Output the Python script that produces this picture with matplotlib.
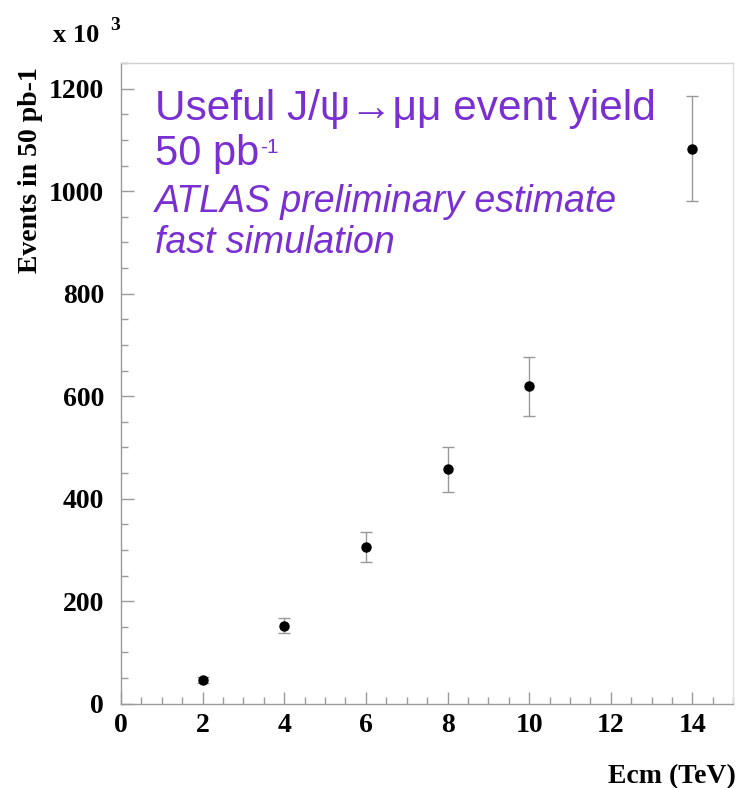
import matplotlib
matplotlib.use('Agg')
import matplotlib.pyplot as plt
from matplotlib.ticker import MultipleLocator

# energies (TeV) and yields (x10^3 events in 50 pb-1)
ecm = [2, 4, 6, 8, 10, 14]
events = [47, 152, 306, 457, 619, 1083]
err = [6, 15, 29, 44, 58, 103]

serif = ['Liberation Serif', 'DejaVu Serif']
sans = ['Liberation Sans', 'DejaVu Sans']
purple = '#7a2fd2'
framecol = '#9a9a9a'

fig = plt.figure(figsize=(7.37, 7.88), dpi=100)
ax = fig.add_axes([0.164, 0.107, 0.831, 0.813])

ax.errorbar(ecm, events, yerr=err, fmt='o', color='black', markersize=6.5,
            ecolor='#999999', elinewidth=1.0, capsize=4, capthick=1.0)

ax.set_xlim(0, 15)
ax.set_ylim(0, 1250)
ax.xaxis.set_major_locator(MultipleLocator(2))
ax.xaxis.set_minor_locator(MultipleLocator(0.5))
ax.yaxis.set_major_locator(MultipleLocator(200))
ax.yaxis.set_minor_locator(MultipleLocator(50))
ax.tick_params(which='both', direction='in', color=framecol, top=False, right=False)
ax.tick_params(which='major', length=9, width=1)
ax.tick_params(which='minor', length=5, width=1)
ax.tick_params(axis='x', pad=7)
ax.tick_params(axis='y', pad=12)
for sp in ax.spines.values():
    sp.set_color(framecol)
    sp.set_linewidth(1)
ax.spines['right'].set_color('#e0e0e0')
ax.spines['top'].set_color('#d0d0d0')

for lab in ax.get_xticklabels() + ax.get_yticklabels():
    lab.set_fontfamily(serif)
    lab.set_fontweight('bold')
    lab.set_fontsize(20)

fig.text(0.041, 0.915, 'Events in 50 pb-1', rotation=90, ha='center', va='top',
         family=serif, weight='bold', fontsize=20)
fig.text(0.999, 0.0063, 'Ecm (TeV)', ha='right', va='baseline',
         family=serif, weight='bold', fontsize=20)
fig.text(0.072, 0.947, 'x 10', ha='left', va='baseline',
         family=serif, weight='bold', fontsize=19)
fig.text(0.150, 0.962, '3', ha='left', va='baseline',
         family=serif, weight='bold', fontsize=14)

ax.text(0.0556, 0.911, 'Useful J/\u03c8\u2192\u03bc\u03bc event yield', transform=ax.transAxes,
        color=purple, family=sans, fontsize=30.5, va='baseline')
t50 = ax.text(0.0556, 0.841, '50 pb', transform=ax.transAxes,
              color=purple, family=sans, fontsize=30, va='baseline')
ax.annotate('-1', xy=(1, 1), xycoords=t50, xytext=(1, -3), textcoords='offset points',
            color=purple, family=sans, fontsize=15, ha='left', va='top')
ax.text(0.0556, 0.7675, 'ATLAS preliminary estimate', transform=ax.transAxes,
        color=purple, family=sans, style='italic', fontsize=27, va='baseline')
ax.text(0.0556, 0.7036, 'fast simulation', transform=ax.transAxes,
        color=purple, family=sans, style='italic', fontsize=27, va='baseline')

fig.savefig('out.png', dpi=100)
